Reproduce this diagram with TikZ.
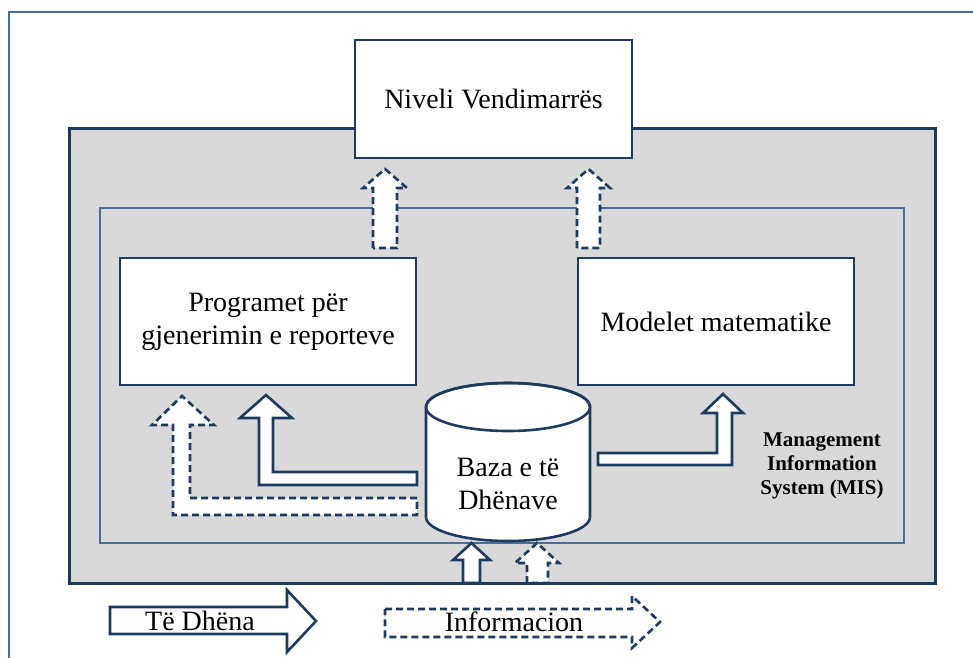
\documentclass[tikz,border=0pt]{standalone}
\usepackage{fontspec}
\setmainfont{Liberation Serif}
\definecolor{navy}{HTML}{1F3A5F}
\definecolor{midblue}{HTML}{4A6C9B}
\definecolor{grayfill}{HTML}{D9D9D9}
\begin{document}
\begin{tikzpicture}[x=1pt,y=-1pt,
  box/.style={draw=navy, line width=2.8pt, fill=white, font=\fontsize{28}{33}\selectfont, align=center, inner sep=0pt},
  solidarrow/.style={draw=navy, line width=2.6pt, fill=white, line join=miter},
  dasharrow/.style={solidarrow, dash pattern=on 7pt off 4pt},
  txt/.style={font=\fontsize{28}{33}\selectfont, align=center, inner sep=0pt}]
\useasboundingbox (0,0) rectangle (973,657);
\fill[white] (0,0) rectangle (973,657);
% outer frame
\coordinate (frameTR) at (990,12);
\coordinate (frameBL) at (9,680);
\draw[midblue, line width=2.5pt] (frameTR) -| (frameBL);
% MIS gray box (fill first) and inner rectangle
\node[fill=grayfill, minimum width=865pt, minimum height=454pt, inner sep=0pt] (mis) at (502.5,356) {};
\node[draw=midblue, line width=2.2pt, minimum width=804pt, minimum height=335pt, inner sep=0pt] (inner) at (502,375.5) {};
% bottom arrows into database
\draw[solidarrow] (463,583) -- (463,560) -- (453,560) -- (471.5,543) -- (490,560) -- (480,560) -- (480,583) -- cycle;
\draw[dasharrow] (527,583) -- (527,563) -- (515,563) -- (537,543) -- (559,563) -- (548,563) -- (548,583) -- cycle;
% MIS gray box border
\draw[navy, line width=2.8pt] (mis.north west) rectangle (mis.south east);
% boxes
\node[box, minimum width=277pt, minimum height=118pt] (dec) at (493.5,99) {Niveli Vendimarrës};
\node[box, minimum width=296pt, minimum height=127pt] (prog) at (268,321.5) {Programet për\\gjenerimin e reporteve};
\node[box, minimum width=276pt, minimum height=127pt] (model) at (716,321.5) {Modelet matematike};
% dashed up arrows to decision level
\draw[dasharrow] (373,248) -- (373,188) -- (363,188) -- (385,169) -- (407,188) -- (397,188) -- (397,248) -- cycle;
\draw[dasharrow] (577,248) -- (577,188) -- (567,188) -- (588.5,169) -- (610,188) -- (600,188) -- (600,248) -- cycle;
% L arrows on the left
\draw[solidarrow] (417,472) -- (273,472) -- (273,418) -- (292,418) -- (266,395) -- (240,418) -- (259,418) -- (259,485) -- (417,485) -- cycle;
\draw[dasharrow] (417,498) -- (190,498) -- (190,425) -- (214,425) -- (182,396) -- (152,425) -- (173,425) -- (173,515) -- (417,515) -- cycle;
% L arrow on the right
\draw[solidarrow] (598,453) -- (717,453) -- (717,413) -- (703,413) -- (723,394) -- (743,413) -- (732,413) -- (732,465) -- (598,465) -- cycle;
% database cylinder
\draw[navy, line width=2.6pt, fill=white] (426,407) -- (426,517)
  arc[start angle=180, end angle=360, x radius=82pt, y radius=24pt] -- (590,407)
  arc[start angle=0, end angle=180, x radius=82pt, y radius=24pt] -- cycle;
\draw[navy, line width=2.6pt] (508,407) ellipse [x radius=82pt, y radius=24pt];
\node[txt] (db) at (508,484) {Baza e të\\Dhënave};
% MIS label
\node[font=\bfseries\fontsize{21}{24}\selectfont, align=center, inner sep=0pt] (mislabel) at (822,466) {Management\\Information\\System (MIS)};
% legend
\draw[solidarrow] (110,607) -- (287,607) -- (287,590) -- (316,621) -- (287,652) -- (287,634) -- (110,634) -- cycle;
\node[txt] (data) at (200,621) {Të Dhëna};
\draw[dasharrow] (385,609) -- (632,609) -- (632,596) -- (660,622) -- (632,648) -- (632,637) -- (385,637) -- cycle;
\node[txt] (info) at (514,622) {Informacion};
\end{tikzpicture}
\end{document}
